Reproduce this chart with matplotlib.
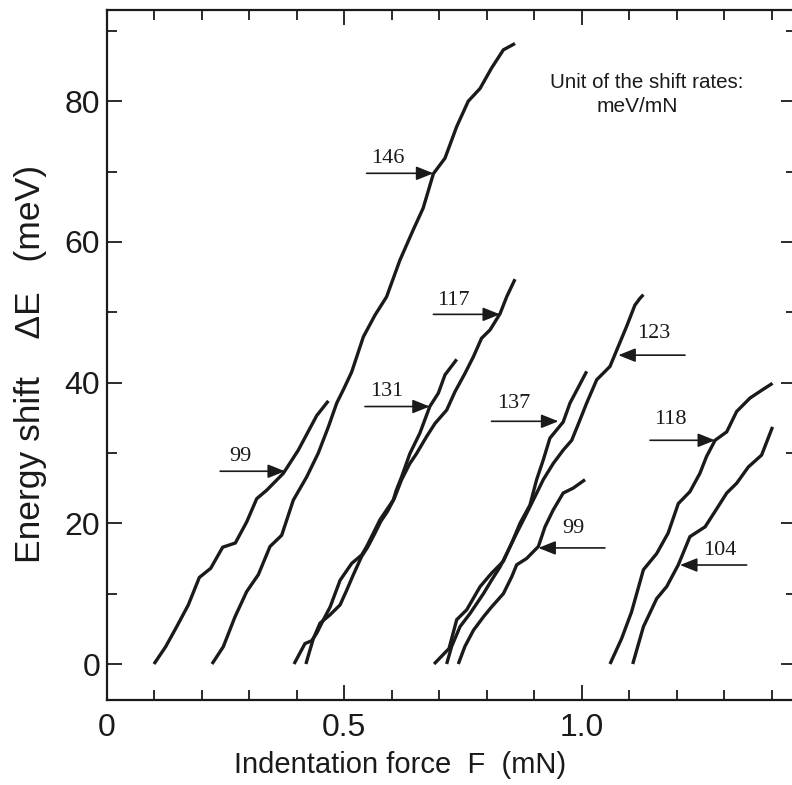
import matplotlib
matplotlib.use("Agg")
import matplotlib.pyplot as plt
from matplotlib.ticker import MultipleLocator, FixedLocator

# ---- data (indentation force in mN, energy shift in meV) ----
a_x = [0.099, 0.1236, 0.1468, 0.1713, 0.1945, 0.2184, 0.2437, 0.2703, 0.2943, 0.3154, 0.3364, 0.3714, 0.403, 0.4417, 0.4663]
a_y = [0, 2.46, 5.3, 8.4, 12.3, 13.6, 16.6, 17.2, 20.2, 23.5, 24.7, 27.1, 30.4, 35.3, 37.4]

b_x = [0.2212, 0.245, 0.2696, 0.2943, 0.3188, 0.3434, 0.368, 0.3925, 0.4207, 0.4452, 0.4663, 0.484, 0.498, 0.5154, 0.540, 0.5646, 0.589, 0.617, 0.645, 0.666, 0.6876, 0.712, 0.7367, 0.761, 0.7858, 0.810, 0.835, 0.8595]
b_y = [0, 2.46, 6.7, 10.3, 12.7, 16.7, 18.3, 23.3, 26.6, 30.0, 33.7, 37.1, 39.0, 41.5, 46.5, 49.6, 52.2, 57.4, 61.7, 64.8, 69.7, 71.9, 76.4, 80.0, 81.8, 84.7, 87.3, 88.2]

c_x = [0.394, 0.417, 0.431, 0.442, 0.456, 0.470, 0.491, 0.5155, 0.5365, 0.547, 0.561, 0.575, 0.589, 0.603, 0.6094, 0.6206, 0.638, 0.659, 0.680, 0.698, 0.712, 0.7367]
c_y = [0, 2.9, 3.3, 4.4, 6.3, 8.1, 11.9, 14.3, 15.5, 16.7, 18.6, 20.5, 21.9, 23.3, 24.7, 26.6, 29.9, 32.8, 36.6, 38.5, 41.1, 43.3]

d_x = [0.419, 0.4276, 0.4347, 0.4487, 0.470, 0.491, 0.505, 0.519, 0.5365, 0.549, 0.563, 0.577, 0.591, 0.605, 0.6206, 0.638, 0.652, 0.673, 0.691, 0.7156, 0.733, 0.754, 0.772, 0.789, 0.807, 0.828, 0.842, 0.8595]
d_y = [0, 2.0, 3.6, 5.8, 7.0, 8.4, 10.5, 12.7, 15.3, 16.6, 18.4, 20.3, 21.7, 23.5, 26.2, 28.5, 29.9, 32.3, 34.2, 36.1, 38.7, 41.3, 43.7, 46.3, 47.5, 49.8, 52.2, 54.7]

e_x = [0.689, 0.7205, 0.7367, 0.7577, 0.786, 0.810, 0.835, 0.8526, 0.870, 0.891, 0.905, 0.919, 0.933, 0.961, 0.9754, 0.9895, 1.0105]
e_y = [0, 2.2, 6.3, 7.7, 11.0, 12.9, 14.6, 17.2, 20.0, 22.6, 26.2, 29.0, 32.1, 34.4, 37.1, 38.9, 41.6]

f_x = [0.740, 0.754, 0.772, 0.793, 0.810, 0.835, 0.8526, 0.863, 0.884, 0.9087, 0.9227, 0.940, 0.961, 0.982, 1.007]
f_y = [0, 2.5, 4.8, 6.7, 8.1, 10.0, 12.4, 14.1, 15.0, 16.7, 19.5, 21.9, 24.3, 25.0, 26.2]

g_x = [0.7155, 0.726, 0.7436, 0.765, 0.793, 0.810, 0.828, 0.842, 0.863, 0.884, 0.9016, 0.919, 0.940, 0.961, 0.979, 0.9964, 1.0105, 1.0316, 1.0596, 1.0737, 1.0947, 1.112, 1.123, 1.13]
g_y = [0, 2.5, 5.3, 7.2, 10.0, 11.9, 13.8, 15.7, 18.6, 21.4, 23.8, 26.2, 28.5, 30.4, 31.8, 34.7, 37.1, 40.4, 42.3, 44.6, 48.0, 51.0, 52.0, 52.5]

h_x = [1.0596, 1.084, 1.105, 1.130, 1.158, 1.182, 1.2035, 1.228, 1.249, 1.263, 1.281, 1.3055, 1.3265, 1.3545, 1.379, 1.402]
h_y = [0, 3.6, 7.4, 13.4, 15.7, 18.6, 22.8, 24.5, 27.1, 29.5, 31.8, 33.0, 35.9, 37.8, 38.9, 39.9]

i_x = [1.1075, 1.130, 1.158, 1.179, 1.2035, 1.228, 1.260, 1.281, 1.3055, 1.3265, 1.351, 1.379, 1.402]
i_y = [0, 5.3, 9.3, 11.0, 14.1, 18.1, 19.5, 21.7, 24.3, 25.7, 28.0, 29.7, 33.7]

series = [(a_x, a_y), (b_x, b_y), (c_x, c_y), (d_x, d_y), (e_x, e_y),
          (f_x, f_y), (g_x, g_y), (h_x, h_y), (i_x, i_y)]

# shift-rate labels: text, arrow tail (x, y), arrow tip (x, y), label position (x, y)
rate_labels = ["99", "146", "117", "131", "137", "99", "123", "118", "104"]
arrow_tail = [(0.2384, 27.4), (0.547, 69.75), (0.6876, 49.7), (0.5435, 36.6), (0.810, 34.5),
              (1.049, 16.5), (1.2176, 43.9), (1.144, 31.8), (1.3475, 14.07)]
arrow_tip = [(0.375, 27.4), (0.6876, 69.75), (0.828, 49.7), (0.680, 36.6), (0.951, 34.5),
             (0.9087, 16.5), (1.0771, 43.9), (1.281, 31.8), (1.207, 14.07)]
label_pos = [(0.280, 29.5), (0.591, 71.8), (0.7296, 51.7), (0.589, 38.7), (0.856, 37.0),
             (0.982, 19.3), (1.151, 47.0), (1.186, 34.7), (1.291, 16.2)]

x_major = [0, 0.5, 1.0]
x_major_labels = ["0", "0.5", "1.0"]
y_major = [0, 20, 40, 60, 80]

plt.rcParams['font.family'] = ['Liberation Sans', 'DejaVu Sans']
INK = '#1a1a1a'

fig = plt.figure(figsize=(7.92, 7.85), dpi=100)
W, H = 792, 785
left_px, right_px, top_px, bot_px = 107, 796, 9.5, 700
ax = fig.add_axes([left_px / W, (H - bot_px) / H, (right_px - left_px) / W, (bot_px - top_px) / H])

for xs, ys in series:
    ax.plot(xs, ys, color=INK, lw=2.4, solid_joinstyle='miter', solid_capstyle='butt')

for txt, tail, tip, lp in zip(rate_labels, arrow_tail, arrow_tip, label_pos):
    ax.annotate("", xy=tip, xytext=tail,
                arrowprops=dict(arrowstyle='-|>,head_length=0.55,head_width=0.22',
                                mutation_scale=19, lw=1.2, color=INK,
                                shrinkA=0, shrinkB=0))
    ax.text(lp[0], lp[1], txt, family='Liberation Serif', fontsize=16,
            ha='center', va='center', color=INK)

ax.text(0.933, 82.6, "Unit of the shift rates:", fontsize=14.8, ha='left', va='center', color=INK)
ax.text(1.032, 79.2, "meV/mN", fontsize=15, ha='left', va='center', color=INK)

ax.set_xlim(0, (right_px - left_px) / 474.7)
ax.set_ylim((664 - bot_px) / 7.035, (664 - top_px) / 7.035)

ax.xaxis.set_major_locator(FixedLocator(x_major))
ax.set_xticklabels(x_major_labels)
ax.xaxis.set_minor_locator(MultipleLocator(0.1))
ax.yaxis.set_major_locator(FixedLocator(y_major))
ax.yaxis.set_minor_locator(MultipleLocator(10))

ax.tick_params(which='both', direction='in', top=True, right=True, width=1.3, color=INK,
               labelsize=23, labelcolor=INK)
ax.tick_params(axis='x', which='major', length=10.8, pad=9)
ax.tick_params(axis='x', which='minor', length=7.2)
ax.tick_params(axis='y', which='major', length=7.2, pad=5)
ax.tick_params(axis='y', which='minor', length=7.2)
for t in ax.yaxis.get_major_ticks():
    if abs(t.get_loc()) < 1e-9:
        t.tick1line.set_markersize(10.8)
        t.tick2line.set_markersize(10.8)

for s in ax.spines.values():
    s.set_linewidth(1.6)
    s.set_color(INK)

fig.text(400 / W, (H - 773) / H, "Indentation force  F  (mN)", fontsize=21, color=INK,
         ha='center', va='baseline')
fig.text(31 / W, (H - 364) / H, "Energy shift    \u0394E   (meV)", fontsize=25.5, color=INK,
         ha='center', va='center', rotation=90)

fig.savefig("out.png", dpi=100)
